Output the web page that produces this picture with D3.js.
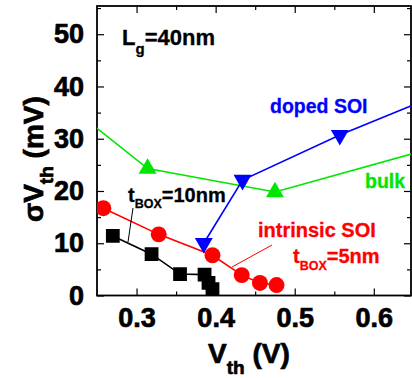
<!DOCTYPE html>
<html>
<head>
<meta charset="utf-8">
<script src="https://cdn.jsdelivr.net/npm/d3@7"></script>
<style>
  body { margin: 0; background: #fff; }
  svg { display: block; font-family: "Liberation Sans", Arial, sans-serif; font-weight: bold; }
</style>
</head>
<body>
<script>
var width = 412;
var height = 378;

// series (points outside the frame are clipped)
var bulkX = [0.20, 0.314, 0.475, 0.70];
var bulkY = [38.0, 24.3, 19.8, 29.3];
var dopedX = [0.385, 0.434, 0.557, 0.70];
var dopedY = [10.0, 22.1, 30.7, 39.6];
var dopedMarks = 3; // the last point is off the frame
var intrX = [0.258, 0.328, 0.396, 0.433, 0.456, 0.477];
var intrY = [16.7, 11.7, 7.7, 3.9, 2.4, 2.0];
var box10X = [0.270, 0.319, 0.355, 0.386, 0.391, 0.396];
var box10Y = [11.4, 7.9, 4.1, 4.0, 2.4, 1.2];

var xTicks = [0.3, 0.4, 0.5, 0.6];
var xMinor = [0.35, 0.45, 0.55, 0.65];
var yTicks = [0, 10, 20, 30, 40, 50];
var yMinor = [5, 15, 25, 35, 45, 55];

var green = "#00e600", blue = "#0000ff", red = "#ff0000";

var pL = 97, pR = 411, pT = 6, pB = 295.5;

var x = d3.scaleLinear().domain([0.25, 0.647]).range([pL, pR]);
var y = d3.scaleLinear().domain([0, 55.4]).range([pB, pT]);

var svg = d3.select("body").append("svg")
  .attr("width", width)
  .attr("height", height);

svg.append("clipPath").attr("id", "clip")
  .append("rect")
  .attr("x", pL).attr("y", pT)
  .attr("width", pR - pL).attr("height", pB - pT);

// axes with inward ticks on all four sides
function addAxis(axis, tx, ty) {
  var g = svg.append("g").attr("transform", "translate(" + tx + "," + ty + ")").call(axis);
  g.select(".domain").remove();
  g.selectAll("line").attr("stroke", "#000").attr("stroke-width", 1.2);
  return g;
}

function bigText(sel) {
  sel.attr("font-size", 27).attr("font-weight", "bold").attr("fill", "#000")
    .attr("stroke", "#000").attr("stroke-width", 0.7)
    .attr("font-family", "Liberation Sans, Arial, sans-serif");
}

var xb = addAxis(d3.axisBottom(x).tickValues(xTicks).tickSize(-7).tickPadding(12).tickFormat(d3.format(".1f")), 0, pB);
bigText(xb.selectAll("text").attr("dy", "0.71em"));
addAxis(d3.axisBottom(x).tickValues(xMinor).tickSize(-4).tickFormat(""), 0, pB);
addAxis(d3.axisTop(x).tickValues(xTicks).tickSize(-7).tickFormat(""), 0, pT);
addAxis(d3.axisTop(x).tickValues(xMinor).tickSize(-4).tickFormat(""), 0, pT);

var yl = addAxis(d3.axisLeft(y).tickValues(yTicks).tickSize(-7).tickPadding(13), pL, 0);
bigText(yl.selectAll("text"));
addAxis(d3.axisLeft(y).tickValues(yMinor).tickSize(-4).tickFormat(""), pL, 0);
addAxis(d3.axisRight(y).tickValues(yTicks).tickSize(-7).tickFormat(""), pR, 0);
addAxis(d3.axisRight(y).tickValues(yMinor).tickSize(-4).tickFormat(""), pR, 0);

svg.append("rect")
  .attr("x", pL).attr("y", pT)
  .attr("width", pR - pL).attr("height", pB - pT)
  .attr("fill", "none").attr("stroke", "#000").attr("stroke-width", 1.8);

var plot = svg.append("g").attr("clip-path", "url(#clip)");

function series(xs, ys, color, symbol, size, nMarks, rot) {
  var pts = xs.map(function(v, i) { return [v, ys[i]]; });
  var line = d3.line().x(function(d) { return x(d[0]); }).y(function(d) { return y(d[1]); });
  plot.append("path")
    .attr("d", line(pts))
    .attr("fill", "none")
    .attr("stroke", color)
    .attr("stroke-width", 1.6);
  var sym = d3.symbol().type(symbol).size(size);
  plot.selectAll(null)
    .data(pts.slice(0, nMarks == null ? pts.length : nMarks))
    .enter()
    .append("path")
    .attr("d", sym)
    .attr("fill", color)
    .attr("transform", function(d) {
      return "translate(" + x(d[0]) + "," + y(d[1]) + ")" + (rot ? " rotate(" + rot + ")" : "");
    });
}

series(bulkX, bulkY, green, d3.symbolTriangle, 140);
series(intrX, intrY, red, d3.symbolCircle, 200);
series(box10X, box10Y, "#000", d3.symbolSquare, 190);
series(dopedX, dopedY, blue, d3.symbolTriangle, 140, dopedMarks, 180);

// leader lines
svg.append("path").attr("d", "M133,208L128,242").attr("stroke", "#000").attr("stroke-width", 1).attr("fill", "none");
svg.append("path").attr("d", "M272,245L232,267").attr("stroke", red).attr("stroke-width", 1).attr("fill", "none");

// labels
function label(tx, ty, size, color, parts) {
  var t = svg.append("text").attr("x", tx).attr("y", ty)
    .attr("font-size", size).attr("fill", color)
    .attr("stroke", color).attr("stroke-width", 0.3);
  parts.forEach(function(p) {
    var s = t.append("tspan").text(p[0]);
    if (p[1]) s.attr("font-size", p[1]);
    if (p[2]) s.attr("dy", p[2]);
  });
  return t;
}

label(122, 45, 22, "#000", [["L"], ["g", 15, 9], ["=40nm", null, -9]]);
label(270, 113, 19.5, blue, [["doped SOI"]]);
label(365, 188, 19.5, green, [["bulk"]]);
label(258, 237, 20, red, [["intrinsic SOI"]]);
label(293, 263, 20, red, [["t"], ["BOX", 12.5, 7], ["=5nm", null, -7]]);
label(128, 202, 20, "#000", [["t"], ["BOX", 12.5, 6], ["=10nm", null, -6]]);

// axis titles
label(208, 363, 28, "#000", [["V"], ["th", 19, 11], [" (V)", null, -11]]).attr("stroke-width", 0.7);
label(0, 0, 28, "#000", [["σ"], ["V"], ["th", 19, 10], [" (mV)", null, -10]])
  .attr("stroke-width", 0.7)
  .attr("transform", "translate(43,222) rotate(-90)");
</script>
</body>
</html>
